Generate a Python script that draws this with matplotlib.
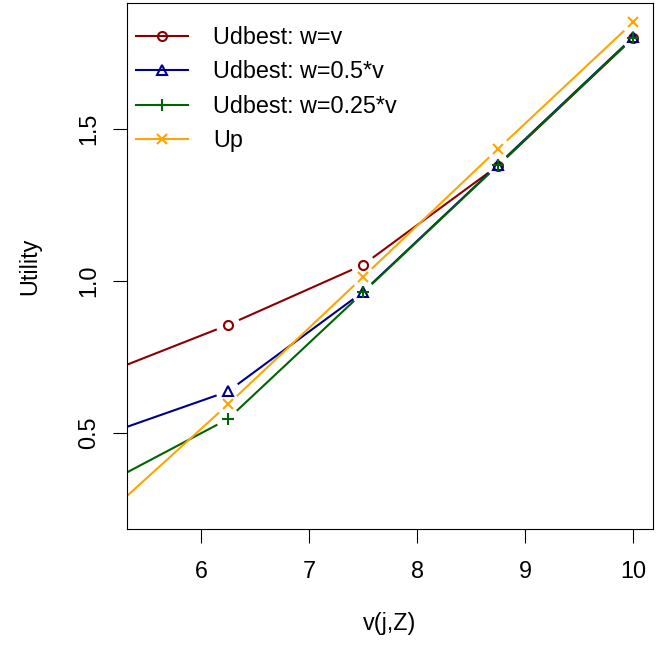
import numpy as np
import matplotlib
matplotlib.use("Agg")
import matplotlib.pyplot as plt

plt.rcParams['font.family'] = ['Liberation Sans', 'DejaVu Sans']

x_vals = [5.0, 6.25, 7.5, 8.75, 10.0]
u_w_full = [0.68, 0.855, 1.053, 1.38, 1.80]
u_w_half = [0.48, 0.636, 0.964, 1.383, 1.803]
u_w_quarter = [0.31, 0.545, 0.962, 1.381, 1.801]
u_p = [0.19, 0.593, 1.013, 1.435, 1.852]

series = [
    ("Udbest: w=v", u_w_full, "#8B0000", "o", 6.5, "none"),
    ("Udbest: w=0.5*v", u_w_half, "#00008B", "^", 7.5, "none"),
    ("Udbest: w=0.25*v", u_w_quarter, "#006400", "+", 9, None),
    ("Up", u_p, "#FFA500", "x", 7, None),
]

fs = 16.8

fig = plt.figure(figsize=(6.7, 6.47), dpi=100)
ax = fig.add_axes([127/670, 1 - 529/647, (653-127)/670, (529-3)/647])
ax.set_xlim(5.315, 10.185)
ax.set_ylim(0.1826, 1.916)

gap = 12  # pixels between point and line end (R type="b")

for label, yv, col, mk, ms, mfc in series:
    pts = ax.transData.transform(np.column_stack([x_vals, yv]))
    inv = ax.transData.inverted()
    for i in range(len(pts) - 1):
        p0, p1 = pts[i], pts[i + 1]
        d = p1 - p0
        L = np.hypot(*d)
        if L <= 2 * gap:
            continue
        u = d / L
        a = inv.transform(p0 + u * gap)
        b = inv.transform(p1 - u * gap)
        ax.plot([a[0], b[0]], [a[1], b[1]], color=col, lw=1.5, solid_capstyle='butt')
    kw = dict(marker=mk, markersize=ms, color=col, linestyle='none', markeredgewidth=1.5)
    if mfc is not None:
        kw['markerfacecolor'] = mfc
    ax.plot(x_vals, yv, **kw)
    # legend proxy
    ax.plot([], [], color=col, lw=1.5, label=label, **{k: v for k, v in kw.items() if k not in ('linestyle', 'color')})

ax.set_xticks([6, 7, 8, 9, 10])
ax.set_yticks([0.5, 1.0, 1.5])
ax.set_yticklabels(["0.5", "1.0", "1.5"], rotation=90, va='center', ha='right')
ax.tick_params(direction='out', length=10, width=0.8, labelsize=fs, colors='black')
ax.tick_params(axis='x', pad=12)
ax.tick_params(axis='y', pad=9.4)
for s in ax.spines.values():
    s.set_linewidth(0.8)

ax.set_xlabel("v(j,Z)", fontsize=fs, labelpad=21)
ax.set_ylabel("Utility", fontsize=fs, labelpad=26)

ax.legend(loc='upper left', frameon=False, fontsize=fs, handlelength=2.23,
          handletextpad=1.07, labelspacing=0.49, borderaxespad=0.0,
          bbox_to_anchor=(0.0, 0.974))

fig.savefig("out.png", dpi=100)
